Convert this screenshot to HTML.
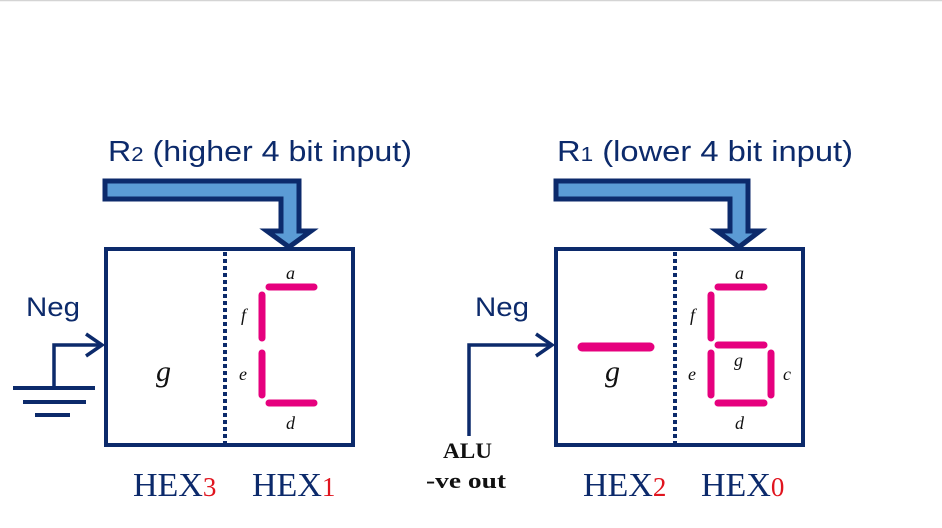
<!DOCTYPE html>
<html><head><style>
html,body{margin:0;padding:0;background:#fff;}
body{width:942px;height:528px;overflow:hidden;position:relative;}
svg{position:absolute;left:0;top:0;}
</style></head><body>
<svg width="942" height="528" viewBox="0 0 942 528" xmlns="http://www.w3.org/2000/svg">
<line x1="0" y1="0.5" x2="942" y2="0.5" stroke="#d4d4d4" stroke-width="1.5"/>
<g font-family="Liberation Sans, sans-serif" fill="#0c2a6b">
<text x="108" y="161" font-size="29" textLength="304" lengthAdjust="spacingAndGlyphs">R<tspan font-size="20">2</tspan> (higher 4 bit input)</text>
<text x="557" y="161" font-size="29" textLength="296" lengthAdjust="spacingAndGlyphs">R<tspan font-size="20">1</tspan> (lower 4 bit input)</text>
<text x="26" y="316" font-size="27" textLength="54" lengthAdjust="spacingAndGlyphs">Neg</text>
<text x="475" y="316" font-size="27" textLength="54" lengthAdjust="spacingAndGlyphs">Neg</text>
</g>
<g fill="#5b9bd5" stroke="#0c2a6b" stroke-width="5" stroke-linejoin="miter">
<path d="M105 181 H299 V231 H311 L289 247 L267 231 H281 V199 H105 Z"/>
<path d="M556 181 H748 V231 H760 L739 247 L717 231 H730 V199 H556 Z"/>
</g>
<g fill="none" stroke="#0c2a6b" stroke-width="4">
<rect x="106" y="249" width="247" height="196"/>
<rect x="556" y="249" width="247" height="196"/>
</g>
<g stroke="#0c2a6b" stroke-width="4" stroke-dasharray="4,3">
<line x1="225" y1="252" x2="225" y2="443"/>
<line x1="675" y1="252" x2="675" y2="443"/>
</g>
<g stroke="#e6007e" stroke-width="7" stroke-linecap="round" fill="none">
<line x1="269" y1="287" x2="314" y2="287"/>
<line x1="262" y1="295" x2="262" y2="338"/>
<line x1="262" y1="353" x2="262" y2="395"/>
<line x1="269" y1="403" x2="314" y2="403"/>
<line x1="718" y1="287" x2="764" y2="287"/>
<line x1="711" y1="295" x2="711" y2="338"/>
<line x1="718" y1="345" x2="764" y2="345"/>
<line x1="711" y1="353" x2="711" y2="395"/>
<line x1="771" y1="353" x2="771" y2="395"/>
<line x1="718" y1="403" x2="764" y2="403"/>
<line x1="582" y1="347" x2="650" y2="347" stroke-width="9"/>
</g>
<g font-family="Liberation Serif, serif" font-style="italic" fill="#111" font-size="18">
<text x="286" y="279">a</text>
<text x="241" y="321">f</text>
<text x="239" y="380">e</text>
<text x="286" y="429">d</text>
<text x="735" y="279">a</text>
<text x="690" y="321">f</text>
<text x="688" y="380">e</text>
<text x="734" y="366">g</text>
<text x="783" y="380">c</text>
<text x="735" y="429">d</text>
<text x="156" y="381" font-size="30">g</text>
<text x="605" y="381" font-size="30">g</text>
</g>
<g stroke="#0c2a6b" stroke-width="3.5" fill="none">
<path d="M54 387 V345 H102"/>
<path d="M86 334 L102 345 L86 356"/>
<line x1="13" y1="388" x2="95" y2="388" stroke-width="4"/>
<line x1="23" y1="402" x2="86" y2="402" stroke-width="4"/>
<line x1="35" y1="415" x2="70" y2="415" stroke-width="4"/>
<path d="M469 436 V345 H552"/>
<path d="M536 334 L552 345 L536 356"/>
</g>
<g font-family="Liberation Serif, serif" font-weight="bold" fill="#111" font-size="22">
<text x="443" y="458" textLength="49" lengthAdjust="spacingAndGlyphs">ALU</text>
<text x="426" y="488" textLength="80" lengthAdjust="spacingAndGlyphs">-ve out</text>
</g>
<g font-family="Liberation Serif, serif" font-size="34" fill="#0c2a6b">
<text x="133" y="496">HEX<tspan fill="#e0141e" font-size="27">3</tspan></text>
<text x="252" y="496">HEX<tspan fill="#e0141e" font-size="27">1</tspan></text>
<text x="583" y="496">HEX<tspan fill="#e0141e" font-size="27">2</tspan></text>
<text x="701" y="496">HEX<tspan fill="#e0141e" font-size="27">0</tspan></text>
</g>
</svg>
</body></html>
